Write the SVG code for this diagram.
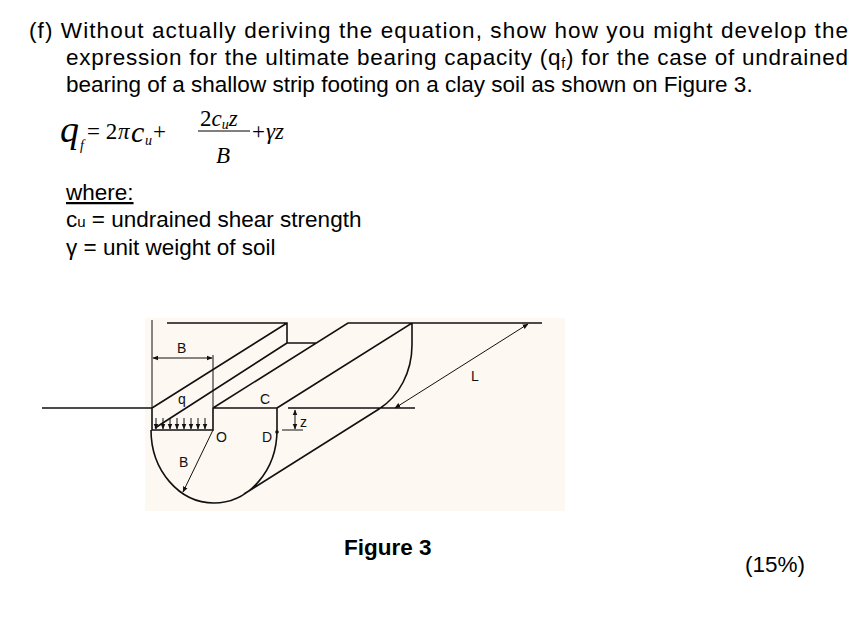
<svg xmlns="http://www.w3.org/2000/svg" width="864" height="620" viewBox="0 0 864 620">
<style>
.t{font-family:"Liberation Sans",Arial,sans-serif;font-size:22.5px;fill:#000}
.m{font-family:"Liberation Serif","Times New Roman",serif;font-style:italic;fill:#000}
.r{font-family:"Liberation Serif","Times New Roman",serif;fill:#000}
.f{font-family:"Liberation Sans",Arial,sans-serif;font-size:14px;fill:#111}
.l{stroke:#111;stroke-width:1.6;fill:none}
.a{stroke:#111;stroke-width:1;fill:none}
</style>
<defs><marker id="ah" viewBox="0 0 10 10" refX="9" refY="5" markerWidth="6" markerHeight="6" orient="auto-start-reverse"><path d="M0,1 L10,5 L0,9 z" fill="#111"/></marker></defs>
<rect width="864" height="620" fill="#fff"/>
<g id="text">
<text class="t" x="29" y="38" textLength="819" lengthAdjust="spacing">(f) Without actually deriving the equation, show how you might develop the</text>
<text class="t" x="66" y="65" textLength="782" lengthAdjust="spacing">expression for the ultimate bearing capacity (q<tspan font-size="14" dy="3">f</tspan><tspan dy="-3">) for the case of undrained</tspan></text>
<text class="t" x="66" y="92">bearing of a shallow strip footing on a clay soil as shown on Figure 3.</text>
<text class="m" x="60" y="142" font-size="38">q</text>
<text class="m" x="80" y="150" font-size="14">f</text>
<text class="r" x="87" y="139" font-size="23">= 2</text>
<text class="m" x="118" y="139" font-size="23">π</text>
<text class="m" x="131" y="142" font-size="30">c</text>
<text class="m" x="145" y="145" font-size="14">u</text>
<text class="r" x="153" y="139" font-size="23">+</text>
<text class="r" x="200" y="126" font-size="23">2<tspan class="m">c</tspan><tspan class="m" font-size="14" dy="3">u</tspan><tspan class="m" dy="-3">z</tspan></text>
<line x1="198" y1="131" x2="250" y2="131" stroke="#000" stroke-width="1"/>
<text class="m" x="216" y="163" font-size="23">B</text>
<text class="r" x="252" y="139" font-size="23">+</text>
<text class="m" x="266" y="139" font-size="23">γz</text>
<text class="t" x="66" y="200" text-decoration="underline">where:</text>
<text class="t" x="66" y="227">c<tspan font-size="15">u</tspan> = undrained shear strength</text>
<text class="t" x="66" y="255">γ = unit weight of soil</text>
<text class="t" x="344" y="555" font-weight="bold">Figure 3</text>
<text class="t" x="745" y="572">(15%)</text>
</g>
<rect x="145" y="318" width="420" height="193" fill="#fdf8f2"/>
<g id="figure">
<path class="l" d="M42,408 H152 V430 H213 V408 M152,408 L287,323 M167,323 H287 V343 H317 M155,428 L287,343 M213,408 L348,323 H412 M213,408 H277 V430 M277,408 L412,323 H542 M288,408 H415 M151,430 A63,73 0 0 0 277,430 M244,494 L379,409 M412,323 V345 A63,73 0 0 1 379,409"/>
<path class="a" d="M152,320 V408 M213,355 V408 M282,430 H303"/>
<line class="a" x1="153" y1="358" x2="212" y2="358" marker-start="url(#ah)" marker-end="url(#ah)"/>
<line class="a" x1="395" y1="408" x2="528" y2="324" marker-start="url(#ah)" marker-end="url(#ah)"/>
<line class="a" x1="295" y1="410" x2="295" y2="429" marker-start="url(#ah)" marker-end="url(#ah)"/>
<line class="a" x1="213" y1="430" x2="183" y2="492" marker-end="url(#ah)"/>
<g marker-end="url(#ah)">
<line class="a" x1="156" y1="418" x2="156" y2="429"/><line class="a" x1="163" y1="418" x2="163" y2="429"/>
<line class="a" x1="170" y1="418" x2="170" y2="429"/><line class="a" x1="177" y1="418" x2="177" y2="429"/>
<line class="a" x1="184" y1="418" x2="184" y2="429"/><line class="a" x1="191" y1="418" x2="191" y2="429"/>
<line class="a" x1="198" y1="418" x2="198" y2="429"/><line class="a" x1="205" y1="418" x2="205" y2="429"/>
</g>
<circle cx="277" cy="432" r="1.8" fill="#111"/>
<text class="f" x="177" y="353">B</text>
<text class="f" x="178" y="404">q</text>
<text class="f" x="260" y="404">C</text>
<text class="f" x="216" y="442">O</text>
<text class="f" x="262" y="442">D</text>
<text class="f" x="300" y="427">z</text>
<text class="f" x="179" y="467">B</text>
<text class="f" x="471" y="381">L</text>
</g>
</svg>
